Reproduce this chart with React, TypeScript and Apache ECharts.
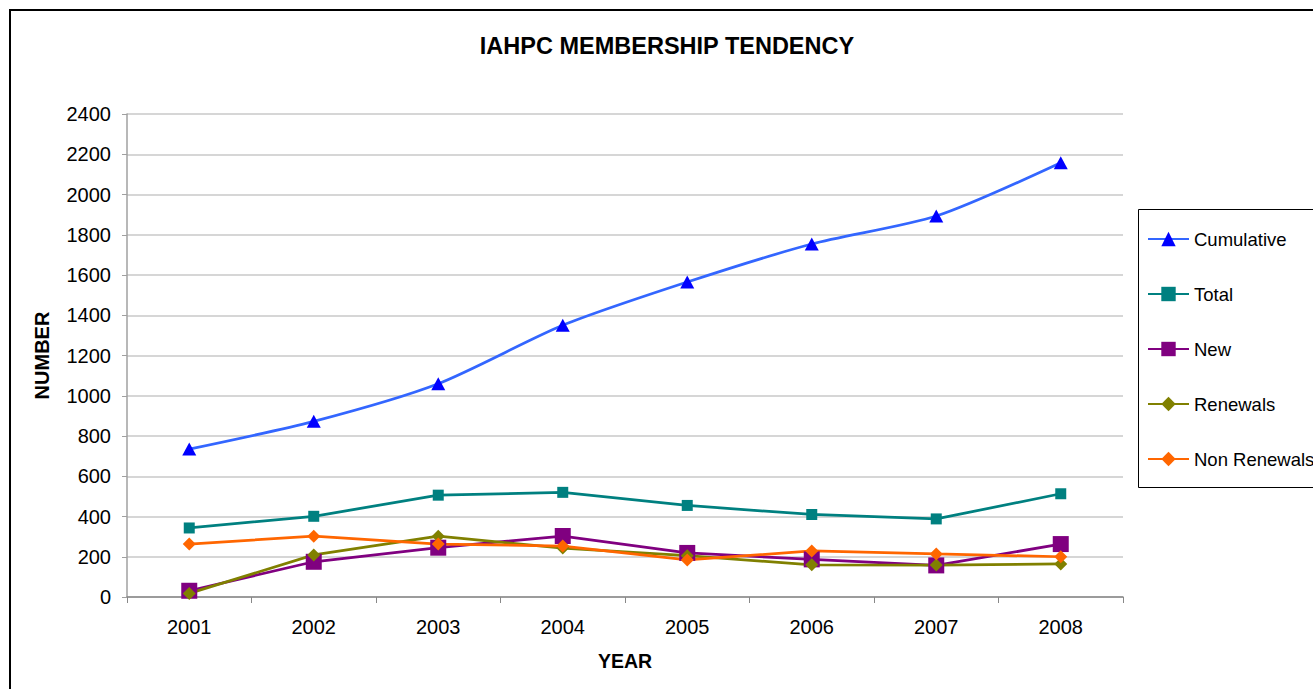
import React, { useEffect, useRef } from "react";
import * as echarts from "echarts";

const years = ["2001", "2002", "2003", "2004", "2005", "2006", "2007", "2008"];
const cumulative = [735, 873, 1060, 1350, 1565, 1754, 1893, 2158];
const total = [343, 401, 506, 520, 455, 410, 388, 513];
const newMembers = [31, 175, 245, 303, 219, 187, 157, 263];
const renewals = [18, 209, 302, 243, 205, 160, 159, 164];
const nonRenewals = [263, 302, 263, 253, 184, 229, 214, 200];

const FONT = "'Liberation Sans', Arial, sans-serif";

export default function App() {
  const ref = useRef<HTMLDivElement>(null);
  useEffect(() => {
    if (!ref.current) return;
    const chart = echarts.init(ref.current, undefined, { renderer: "svg" });
    const mk = (
      name: string,
      data: number[],
      lineColor: string,
      markColor: string,
      symbol: string,
      size: number | number[],
      smooth: boolean | number = false
    ) => ({
      name,
      type: "line",
      data,
      smooth,
      symbol,
      symbolSize: size,
      showSymbol: true,
      lineStyle: { color: lineColor, width: 2.75 },
      itemStyle: { color: markColor, borderWidth: 0 },
    });
    chart.setOption({
      animation: false,
      textStyle: { fontFamily: FONT },
      graphic: [
        {
          type: "rect",
          shape: { x: 10, y: 10, width: 1400, height: 800 },
          style: { fill: "none", stroke: "#000", lineWidth: 2 },
          silent: true,
        },
        {
          type: "rect",
          shape: { x: 1138.5, y: 209.5, width: 300, height: 278 },
          style: { fill: "#fff", stroke: "#000", lineWidth: 1 },
          silent: true,
          z: -1,
        },
        {
          type: "text",
          x: 667,
          y: 46,
          style: {
            text: "IAHPC MEMBERSHIP TENDENCY",
            fontFamily: FONT,
            fontSize: 23.5,
            fontWeight: "bold",
            fill: "#000",
            align: "center",
            verticalAlign: "middle",
          },
        },
      ],
      grid: { left: 127, top: 114, right: 190, bottom: 92, containLabel: false },
      legend: {
        orient: "vertical",
        left: 1147,
        top: 229.5,
        padding: 0,
        itemGap: 36,
        itemWidth: 41,
        itemHeight: 18,
        textStyle: { fontFamily: FONT, fontSize: 18.5, color: "#000", padding: [0, 0, 0, 0] },
        data: ["Cumulative", "Total", "New", "Renewals", "Non Renewals"],
        z: 5,
      },
      xAxis: {
        type: "category",
        data: years,
        boundaryGap: true,
        name: "YEAR",
        nameLocation: "middle",
        nameGap: 54,
        nameTextStyle: { fontFamily: FONT, fontSize: 19.5, fontWeight: "bold", color: "#000" },
        axisLine: { lineStyle: { color: "#888", width: 1.5 } },
        axisTick: { show: true, length: 6, lineStyle: { color: "#888" } },
        axisLabel: { fontFamily: FONT, fontSize: 20, color: "#000", margin: 20 },
        splitLine: { show: false },
      },
      yAxis: {
        type: "value",
        min: 0,
        max: 2400,
        interval: 200,
        name: "NUMBER",
        nameLocation: "middle",
        nameGap: 75,
        nameRotate: 90,
        nameTextStyle: { fontFamily: FONT, fontSize: 20, fontWeight: "bold", color: "#000" },
        axisLine: { show: true, lineStyle: { color: "#a0a0a0", width: 1.5 } },
        axisTick: { show: true, length: 5, lineStyle: { color: "#a0a0a0" } },
        axisLabel: {
          fontFamily: FONT,
          fontSize: 20,
          color: "#000",
          margin: 16,
          formatter: (v: number) => String(v),
        },
        splitLine: { show: true, lineStyle: { color: "#c8c8c8", width: 1.5 } },
      },
      series: [
        mk("Cumulative", cumulative, "#3366ff", "#0000ff", "triangle", [14, 13], 0.25),
        mk("Total", total, "#008080", "#008080", "rect", 11),
        mk("New", newMembers, "#800080", "#800080", "rect", 16),
        mk("Renewals", renewals, "#808000", "#808000", "diamond", 13),
        mk("Non Renewals", nonRenewals, "#ff6600", "#ff6600", "diamond", 13),
      ],
    });
    return () => chart.dispose();
  }, []);
  return (
    <div
      ref={ref}
      style={{ position: "fixed", left: 0, top: 0, width: 1313, height: 689, background: "#fff" }}
    />
  );
}
